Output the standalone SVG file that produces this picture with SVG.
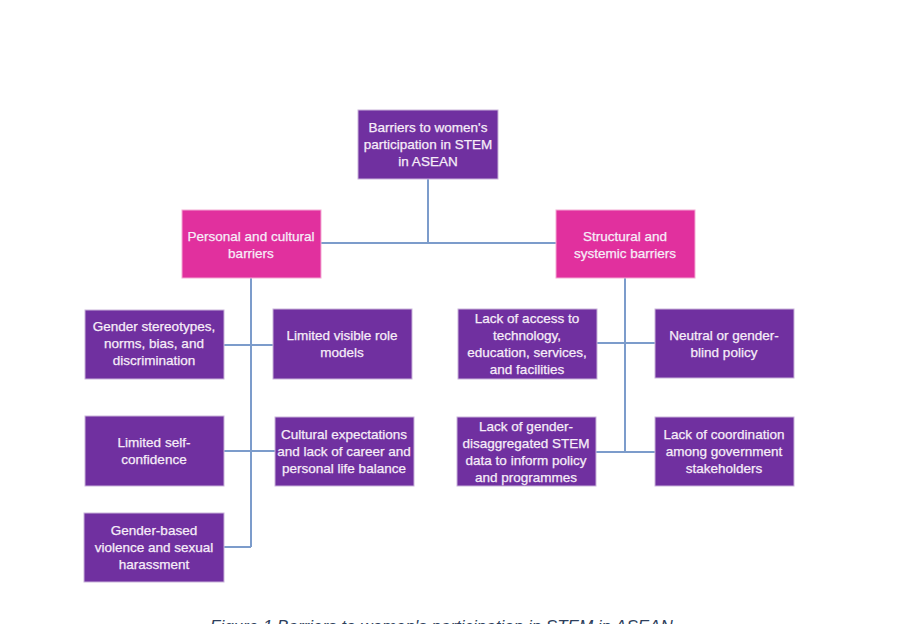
<svg xmlns="http://www.w3.org/2000/svg" width="910" height="624" viewBox="0 0 910 624">
<style>
.p{fill:#7030A0;stroke:#C9B3DA;stroke-width:1}
.k{fill:#E1309E;stroke:#F3A9D3;stroke-width:1}
.t{font-family:"Liberation Sans",Arial,sans-serif;font-size:13.5px;fill:#F6EDF8;stroke:#F6EDF8;stroke-width:0.25;text-anchor:middle}
.c{fill:none;stroke:#7C9CCB;stroke-width:2}
.cap{font-family:"Liberation Sans",Arial,sans-serif;font-size:17px;font-style:italic;fill:#2E3F5C}
</style>
<rect width="910" height="624" fill="#fff"/>
<g id="connectors">
<path class="c" d="M428 179V243M321 243H556"/>
<path class="c" d="M251 278V547M224 345H273M224 451H275M224 547H251"/>
<path class="c" d="M625 278V452M597 343H655M596 452H655"/>
</g>
<g id="root"><rect class="p" x="358" y="110" width="140" height="69"/>
<text class="t" x="428" y="132">Barriers to women's</text><text class="t" x="428" y="149">participation in STEM</text><text class="t" x="428" y="166">in ASEAN</text></g>
<g id="personal"><rect class="k" x="182" y="210" width="139" height="68"/>
<text class="t" x="251" y="241">Personal and cultural</text><text class="t" x="251" y="258">barriers</text></g>
<g id="structural"><rect class="k" x="556" y="210" width="139" height="68"/>
<text class="t" x="625" y="241">Structural and</text><text class="t" x="625" y="258">systemic barriers</text></g>
<g id="stereotypes"><rect class="p" x="85" y="310" width="139" height="69"/>
<text class="t" x="154" y="331">Gender stereotypes,</text><text class="t" x="154" y="348">norms, bias, and</text><text class="t" x="154" y="365">discrimination</text></g>
<g id="rolemodels"><rect class="p" x="273" y="309" width="139" height="70"/>
<text class="t" x="342" y="340">Limited visible role</text><text class="t" x="342" y="357">models</text></g>
<g id="selfconfidence"><rect class="p" x="85" y="416" width="139" height="70"/>
<text class="t" x="154" y="447">Limited self-</text><text class="t" x="154" y="464">confidence</text></g>
<g id="cultural"><rect class="p" x="275" y="417" width="139" height="69"/>
<text class="t" x="344" y="439">Cultural expectations</text><text class="t" x="344" y="456">and lack of career and</text><text class="t" x="344" y="473">personal life balance</text></g>
<g id="violence"><rect class="p" x="84" y="513" width="140" height="69"/>
<text class="t" x="154" y="535">Gender-based</text><text class="t" x="154" y="552">violence and sexual</text><text class="t" x="154" y="569">harassment</text></g>
<g id="access"><rect class="p" x="458" y="309" width="139" height="70"/>
<text class="t" x="527" y="323">Lack of access to</text><text class="t" x="527" y="340">technology,</text><text class="t" x="527" y="357">education, services,</text><text class="t" x="527" y="374">and facilities</text></g>
<g id="neutral"><rect class="p" x="655" y="309" width="139" height="69"/>
<text class="t" x="724" y="340">Neutral or gender-</text><text class="t" x="724" y="357">blind policy</text></g>
<g id="data"><rect class="p" x="457" y="417" width="139" height="69"/>
<text class="t" x="526" y="431">Lack of gender-</text><text class="t" x="526" y="448">disaggregated STEM</text><text class="t" x="526" y="465">data to inform policy</text><text class="t" x="526" y="482">and programmes</text></g>
<g id="coordination"><rect class="p" x="655" y="417" width="139" height="69"/>
<text class="t" x="724" y="439">Lack of coordination</text><text class="t" x="724" y="456">among government</text><text class="t" x="724" y="473">stakeholders</text></g>
<text class="cap" x="210" y="632">Figure 1 Barriers to women's participation in STEM in ASEAN</text>
</svg>
